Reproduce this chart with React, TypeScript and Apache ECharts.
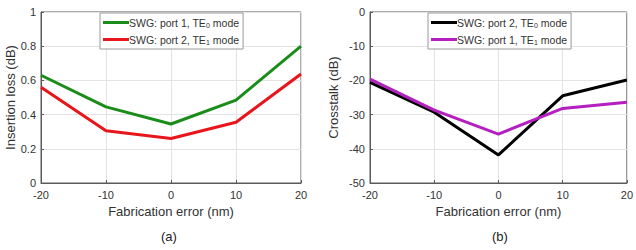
import React, { useEffect, useRef } from "react";
import * as echarts from "echarts";

const xValues = [-20, -10, 0, 10, 20];
const ilPort1TE0 = [0.63, 0.445, 0.345, 0.485, 0.8];
const ilPort2TE1 = [0.56, 0.305, 0.26, 0.355, 0.637];
const xtPort2TE0 = [-20.6, -29.3, -41.8, -24.5, -19.9];
const xtPort1TE1 = [-19.6, -28.7, -35.7, -28.2, -26.4];

const legendLabels: Record<string, string> = {
  a0: "{t|SWG: port 1, TE}{s|0}{t| mode}",
  a1: "{t|SWG: port 2, TE}{s|1}{t| mode}",
  b0: "{t|SWG: port 2, TE}{s|0}{t| mode}",
  b1: "{t|SWG: port 1, TE}{s|1}{t| mode}",
};

const FONT = "'Liberation Sans', Arial, sans-serif";

export default function App() {
  const ref = useRef<HTMLDivElement>(null);
  useEffect(() => {
    if (!ref.current) return;
    const chart = echarts.init(ref.current, undefined, { renderer: "svg" });
    const axisLine = { show: true, onZero: false, lineStyle: { color: "#5a5a5a", width: 1 } };
    const splitLine = { show: true, lineStyle: { color: "#e3e3e3", width: 1 } };
    const axisLabel = { color: "#333", fontSize: 11, fontFamily: FONT };
    const nameTextStyle = { color: "#333", fontSize: 13, fontFamily: FONT };
    const axisTick = { show: true, inside: true, length: 3, lineStyle: { color: "#5a5a5a" } };
    const xAxisBase = {
      type: "value",
      min: -20,
      max: 20,
      interval: 10,
      axisLine,
      splitLine,
      axisTick,
      axisLabel: { ...axisLabel, margin: 6 },
      name: "Fabrication error (nm)",
      nameLocation: "middle",
      nameGap: 22,
      nameTextStyle,
    };
    const legendBase = {
      orient: "vertical",
      top: 13,
      itemWidth: 26,
      itemHeight: 3,
      itemGap: 4,
      icon: "rect",
      borderColor: "#9a9a9a",
      borderWidth: 1,
      borderRadius: 0,
      backgroundColor: "#fff",
      padding: [3, 4, 3, 3],
      formatter: (name: string) => legendLabels[name],
      textStyle: {
        padding: [0, 0, 0, -5],
        rich: {
          t: { fontSize: 10.5, fontFamily: FONT, color: "#333", lineHeight: 13 },
          s: { fontSize: 7, fontFamily: FONT, color: "#333", lineHeight: 13, padding: [6, 0, 0, 0] },
        },
      },
    };
    const mk = (name: string, ys: number[], color: string, idx: number) => ({
      type: "line",
      name,
      xAxisIndex: idx,
      yAxisIndex: idx,
      data: xValues.map((x, i) => [x, ys[i]]),
      symbol: "none",
      lineStyle: { color, width: 3 },
      itemStyle: { color },
      z: 3,
    });
    chart.setOption({
      animation: false,
      backgroundColor: "#fff",
      grid: [
        { left: 41, top: 12, width: 260, height: 171, show: true, borderColor: "#5a5a5a", borderWidth: 1, backgroundColor: "transparent" },
        { left: 370, top: 12, width: 260, height: 171, show: true, borderColor: "#5a5a5a", borderWidth: 1, backgroundColor: "transparent" },
      ],
      xAxis: [
        { ...xAxisBase, gridIndex: 0 },
        { ...xAxisBase, gridIndex: 1 },
      ],
      yAxis: [
        {
          type: "value",
          gridIndex: 0,
          min: 0,
          max: 1,
          interval: 0.2,
          axisLine,
          splitLine,
          axisTick,
          axisLabel: { ...axisLabel, margin: 5, formatter: (v: number) => (Math.round(v * 10) / 10).toString() },
          name: "Insertion loss (dB)",
          nameLocation: "middle",
          nameGap: 24,
          nameTextStyle,
        },
        {
          type: "value",
          gridIndex: 1,
          min: -50,
          max: 0,
          interval: 10,
          axisLine,
          splitLine,
          axisTick,
          axisLabel: { ...axisLabel, margin: 5 },
          name: "Crosstalk (dB)",
          nameLocation: "middle",
          nameGap: 30,
          nameTextStyle,
        },
      ],
      legend: [
        { ...legendBase, left: 100, data: ["a0", "a1"] },
        { ...legendBase, left: 428, data: ["b0", "b1"] },
      ],
      series: [
        mk("a0", ilPort1TE0, "#1a8c1a", 0),
        mk("a1", ilPort2TE1, "#e8161b", 0),
        mk("b0", xtPort2TE0, "#000000", 1),
        mk("b1", xtPort1TE1, "#b41fc0", 1),
      ],
      graphic: [
        { type: "text", left: 161, top: 230, style: { text: "(a)", fontSize: 13, fontFamily: FONT, fill: "#222" } },
        { type: "text", left: 492, top: 230, style: { text: "(b)", fontSize: 13, fontFamily: FONT, fill: "#222" } },
      ],
    });
    return () => chart.dispose();
  }, []);
  return (
    <div
      ref={ref}
      style={{ position: "absolute", left: 0, top: 0, width: 636, height: 250 }}
    />
  );
}
